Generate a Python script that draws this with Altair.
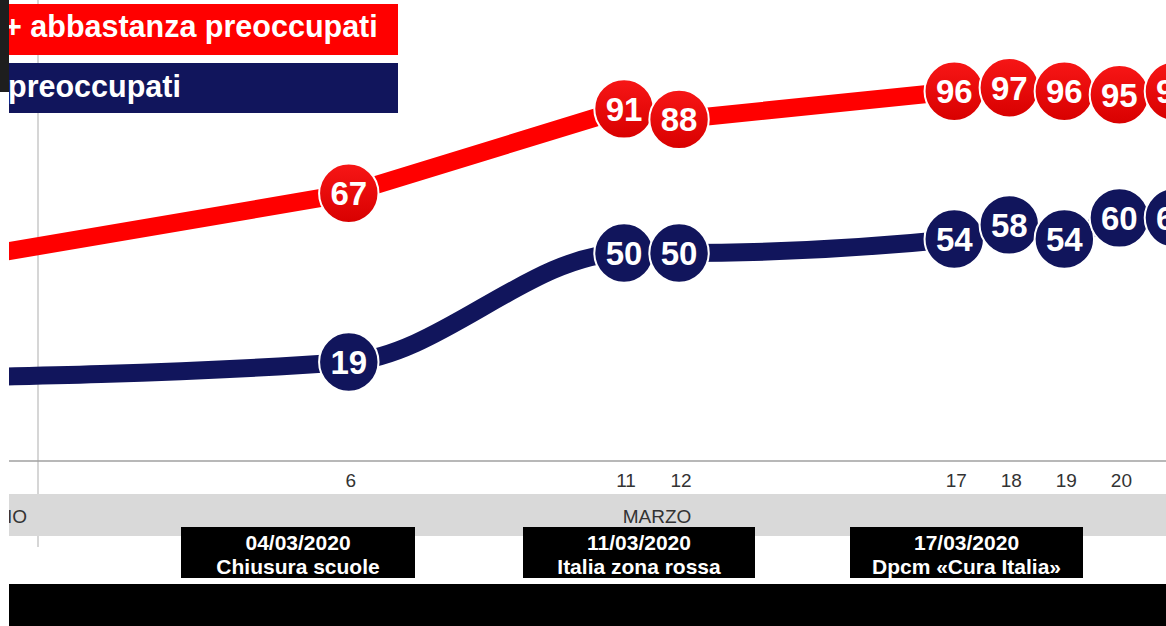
import altair as alt
import pandas as pd

# ---- data (days of March 2020; -3 = late February, outside the visible crop) ----
days = [-3, 6, 11, 12, 17, 18, 19, 20, 21]
molto_abbastanza = [43, 67, 91, 88, 96, 97, 96, 95, 96]
molto = [14, 19, 50, 50, 54, 58, 54, 60, 60]
tick_days = [6, 11, 12, 17, 18, 19, 20]
legend_labels = ["+ abbastanza preoccupati", "preoccupati"]
month_labels = ["FEBBRAIO", "MARZO"]
event_dates = ["04/03/2020", "11/03/2020", "17/03/2020"]
event_texts = ["Chiusura scuole", "Italia zona rossa", "Dpcm «Cura Italia»"]

W, H = 1166, 626
RED = "#ff0000"
NAVY = "#11155c"
FONT = "Liberation Sans"

x_scale = alt.Scale(domain=[-0.337, 20.847], nice=False, zero=False)
y_scale = alt.Scale(domain=[-56.09, 121.96], nice=False, zero=False)

red_df = pd.DataFrame({"day": days, "value": molto_abbastanza, "label": [str(v) for v in molto_abbastanza]})
blue_df = pd.DataFrame({"day": days, "value": molto, "label": [str(v) for v in molto]})
ticks_df = pd.DataFrame({"day": tick_days, "label": [str(d) for d in tick_days]})
dummy = pd.DataFrame({"k": [0]})

X = alt.X("day:Q", scale=x_scale, axis=None)
Y = alt.Y("value:Q", scale=y_scale, axis=None)


def rect(x, x2, y, y2, color):
    return alt.Chart(dummy).mark_rect(color=color).encode(
        x=alt.value(x), x2=alt.value(x2), y=alt.value(y), y2=alt.value(y2))


def label(text, x, y, size, color="white", weight="bold", align="center"):
    return alt.Chart(dummy).mark_text(
        text=text, font=FONT, fontSize=size, fontWeight=weight, color=color,
        align=align, baseline="alphabetic").encode(x=alt.value(x), y=alt.value(y))


layers = []
# vertical grid line and horizontal axis line
layers.append(alt.Chart(dummy).mark_rule(color="#c8c8c8", strokeWidth=1.5).encode(
    x=alt.value(38), y=alt.value(0), y2=alt.value(547)))
layers.append(alt.Chart(dummy).mark_rule(color="#a0a0a0", strokeWidth=1.5).encode(
    x=alt.value(9), x2=alt.value(W), y=alt.value(461)))
# month band
layers.append(rect(9, W, 494, 536, "#d9d9d9"))
layers.append(label(month_labels[0], 27, 523, 19, color="#333333", weight="normal", align="right"))
layers.append(label(month_labels[1], 657, 523, 19, color="#333333", weight="normal"))
# day tick labels
layers.append(alt.Chart(ticks_df).mark_text(
    font=FONT, fontSize=19, color="#333333", baseline="alphabetic", dx=2).encode(
    x=X, y=alt.value(487), text="label:N"))

# lines
layers.append(alt.Chart(red_df).mark_line(color=RED, strokeWidth=18, clip=True).encode(x=X, y=Y))
layers.append(alt.Chart(blue_df).mark_line(color=NAVY, strokeWidth=18, interpolate="monotone", clip=True).encode(x=X, y=Y))

red_grad = alt.Gradient(gradient="linear",
                        stops=[alt.GradientStop(color="#f71616", offset=0),
                               alt.GradientStop(color="#d80000", offset=1)],
                        x1=0, x2=0, y1=0, y2=1)
for df, col in [(red_df, red_grad), (blue_df, NAVY)]:
    layers.append(alt.Chart(df).mark_circle(
        color=col, size=3530, opacity=1, stroke="white", strokeWidth=2, clip=True).encode(x=X, y=Y))
    layers.append(alt.Chart(df).mark_text(
        font=FONT, fontSize=33, fontWeight="bold", color="white",
        baseline="alphabetic", dy=12, clip=True).encode(x=X, y=Y, text="label:N"))

# legend boxes
layers.append(rect(9, 398, 4, 55, RED))
layers.append(label(legend_labels[0], 4, 37, 30.5, align="left"))
layers.append(rect(9, 398, 63, 113, NAVY))
layers.append(label(legend_labels[1], 8, 97, 30.5, align="left"))

# event boxes
for (x0, x1), d, t in zip([(181, 415), (523, 755), (850, 1083)], event_dates, event_texts):
    cx = (x0 + x1) / 2
    layers.append(rect(x0, x1, 527, 578, "#000000"))
    layers.append(label(d, cx, 550, 21))
    layers.append(label(t, cx, 574, 21))

# bottom black bar and left strips
layers.append(rect(9, W, 584, H, "#000000"))
layers.append(rect(0, 9, 92, H, "#ffffff"))
layers.append(rect(0, 9, 0, 92, "#1e1e1e"))

chart = alt.layer(*layers).properties(
    width=W, height=H, padding=0,
    autosize=alt.AutoSizeParams(type="none"),
    background="white",
).configure_view(stroke=None)

chart.save("out.html", embed_options={"renderer": "svg", "actions": False})
